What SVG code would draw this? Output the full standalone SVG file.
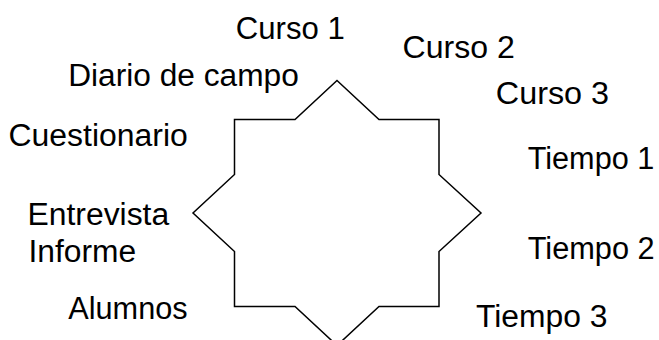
<svg xmlns="http://www.w3.org/2000/svg" width="659" height="340" viewBox="0 0 659 340">
<style>
.t{font-family:"Liberation Sans",Arial,sans-serif;font-size:31px;fill:#000}
.s{fill:#fff;stroke:#000;stroke-width:1.5;stroke-linejoin:miter}
</style>
<rect width="659" height="340" fill="#fff"/>
<g id="star">
<polygon class="s" points="337,80.5 379,119.5 439,119.5 439,174.5 481,213 439,251.5 439,306.5 379,306.5 337,345.5 295,306.5 234.5,306.5 234.5,251.5 193,213 234.5,174.5 234.5,119.5 295,119.5"/>
</g>
<g id="labels">
<text class="t" x="235.8" y="39" textLength="109" lengthAdjust="spacingAndGlyphs">Curso 1</text>
<text class="t" x="402.5" y="57.5" textLength="112.3" lengthAdjust="spacingAndGlyphs">Curso 2</text>
<text class="t" x="495.8" y="103.5" textLength="113.3" lengthAdjust="spacingAndGlyphs">Curso 3</text>
<text class="t" x="68.2" y="86" textLength="230.6" lengthAdjust="spacingAndGlyphs">Diario de campo</text>
<text class="t" x="8.5" y="146" textLength="179.3" lengthAdjust="spacingAndGlyphs">Cuestionario</text>
<text class="t" x="527.7" y="169" textLength="126.6" lengthAdjust="spacingAndGlyphs">Tiempo 1</text>
<text class="t" x="27.5" y="225" textLength="141.7" lengthAdjust="spacingAndGlyphs">Entrevista</text>
<text class="t" x="28.5" y="261.5" textLength="107.7" lengthAdjust="spacingAndGlyphs">Informe</text>
<text class="t" x="527.7" y="258.5" textLength="127" lengthAdjust="spacingAndGlyphs">Tiempo 2</text>
<text class="t" x="68.3" y="318.5" textLength="119.3" lengthAdjust="spacingAndGlyphs">Alumnos</text>
<text class="t" x="476" y="326.5" textLength="131.4" lengthAdjust="spacingAndGlyphs">Tiempo 3</text>
</g>
</svg>
